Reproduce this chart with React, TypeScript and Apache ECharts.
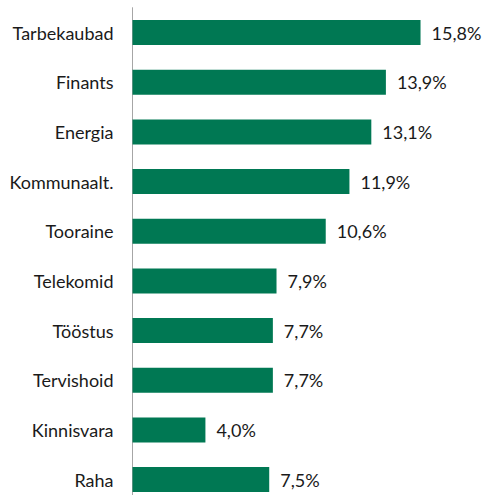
import React, { useEffect, useRef } from "react";
import * as echarts from "echarts";

const categories = [
  "Tarbekaubad",
  "Finants",
  "Energia",
  "Kommunaalt.",
  "Tooraine",
  "Telekomid",
  "Tööstus",
  "Tervishoid",
  "Kinnisvara",
  "Raha",
];
const values = [15.8, 13.9, 13.1, 11.9, 10.6, 7.9, 7.7, 7.7, 4.0, 7.5];

export default function App() {
  const ref = useRef<HTMLDivElement>(null);
  useEffect(() => {
    if (!ref.current) return;
    const chart = echarts.init(ref.current, null, { renderer: "svg" });
    chart.setOption({
      animation: false,
      grid: {
        left: 132.5,
        top: 7.7,
        width: 364.6,
        height: 496.7,
        containLabel: false,
        outerBoundsMode: "none",
      },
      xAxis: {
        type: "value",
        min: 0,
        max: 20,
        show: false,
      },
      yAxis: {
        type: "category",
        inverse: true,
        data: categories,
        axisLine: { show: true, lineStyle: { color: "#a6a6a6", width: 1 } },
        axisTick: { show: false },
        axisLabel: {
          margin: 19,
          color: "#1a1a1a",
          fontSize: 18,
          fontFamily: "Lato",
        },
      },
      series: [
        {
          type: "bar",
          data: values,
          barWidth: 25,
          itemStyle: { color: "#007853" },
          label: {
            show: true,
            position: "right",
            distance: 11,
            color: "#1a1a1a",
            fontSize: 18,
            fontFamily: "Lato",
            formatter: (p: any) => p.value.toFixed(1).replace(".", ",") + "%",
          },
        },
      ],
    });
    return () => chart.dispose();
  }, []);
  return (
    <div
      ref={ref}
      style={{ position: "fixed", left: 0, top: 0, width: 482, height: 495, background: "#fff" }}
    />
  );
}
